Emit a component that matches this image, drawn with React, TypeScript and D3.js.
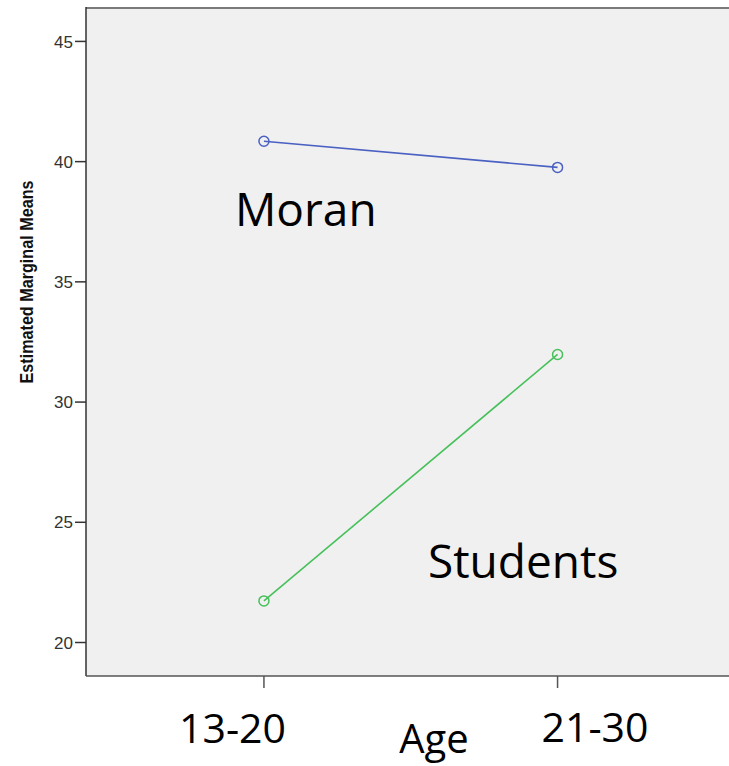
import React from "react";
import * as d3 from "d3";

const ageGroups = ["13-20", "21-30"];
const moranMeans = [40.85, 39.76];
const studentMeans = [21.73, 31.98];
const yTicks = [20, 25, 30, 35, 40, 45];

const W = 729;
const H = 766;
const plotLeft = 86;
const plotTop = 8;
const plotBottom = 676;

export default function App() {
  const x = d3.scalePoint<string>().domain(ageGroups).range([plotLeft, 735.5]).padding(0.606);
  const y = d3.scaleLinear().domain([18.607, 46.39]).range([plotBottom, plotTop]);
  const line = d3
    .line<number>()
    .x((_, i) => x(ageGroups[i]) as number)
    .y((d) => y(d));

  const series = [
    { name: "Moran", values: moranMeans, color: "#4a60c2" },
    { name: "Students", values: studentMeans, color: "#46c05a" },
  ];

  const bigFont = "'Open Sans', 'Noto Sans', sans-serif";

  return (
    <svg
      width={W}
      height={H}
      style={{ position: "absolute", left: 0, top: 0, background: "#fff" }}
    >
      <rect x={plotLeft} y={plotTop} width={W - plotLeft} height={plotBottom - plotTop} fill="#f0f0f0" />
      <line x1={plotLeft} x2={W} y1={plotTop} y2={plotTop} stroke="#7a7a7a" strokeWidth={2} />
      <line x1={plotLeft} x2={plotLeft} y1={plotTop - 1} y2={plotBottom} stroke="#333" strokeWidth={1.5} />
      <line x1={plotLeft} x2={W} y1={plotBottom} y2={plotBottom} stroke="#555" strokeWidth={1.5} />

      {yTicks.map((t) => (
        <g key={t}>
          <line x1={plotLeft - 11} x2={plotLeft} y1={y(t)} y2={y(t)} stroke="#333" strokeWidth={1.5} />
          <text
            x={plotLeft - 13}
            y={y(t)}
            dy="0.36em"
            textAnchor="end"
            fontFamily="'Liberation Sans Narrow', 'Liberation Sans', Arial, sans-serif"
            fontSize={17}
            fill="#333"
          >
            {t}
          </text>
        </g>
      ))}

      {ageGroups.map((g) => (
        <line
          key={g}
          x1={x(g)}
          x2={x(g)}
          y1={plotBottom}
          y2={plotBottom + 12}
          stroke="#555"
          strokeWidth={1.5}
        />
      ))}

      <text
        transform={`translate(33, 282) rotate(-90)`}
        textAnchor="middle"
        fontFamily="'Liberation Sans', Arial, sans-serif"
        fontWeight="bold"
        fontSize={18}
        textLength={203}
        lengthAdjust="spacingAndGlyphs"
        fill="#111"
      >
        Estimated Marginal Means
      </text>

      {series.map((s) => (
        <g key={s.name}>
          <path d={line(s.values) || ""} fill="none" stroke={s.color} strokeWidth={1.6} />
          {s.values.map((v, i) => (
            <circle
              key={i}
              cx={x(ageGroups[i])}
              cy={y(v)}
              r={5}
              fill="none"
              stroke={s.color}
              strokeWidth={1.5}
            />
          ))}
        </g>
      ))}

      <text x={235} y={226} fontFamily={bigFont} fontSize={46} fill="#000">
        Moran
      </text>
      <text x={428} y={578} fontFamily={bigFont} fontSize={46} fill="#000">
        Students
      </text>

      <text x={232.5} y={743} textAnchor="middle" fontFamily={bigFont} fontSize={41} fill="#000">
        {ageGroups[0]}
      </text>
      <text x={595} y={742} textAnchor="middle" fontFamily={bigFont} fontSize={41} fill="#000">
        {ageGroups[1]}
      </text>
      <text x={434} y={753} textAnchor="middle" fontFamily={bigFont} fontSize={40} fill="#000">
        Age
      </text>
    </svg>
  );
}
